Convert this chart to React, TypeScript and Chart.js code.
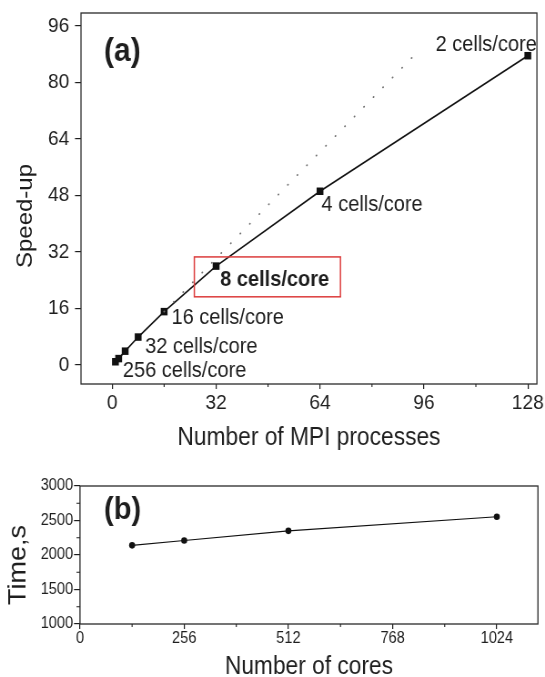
import React, { useEffect, useRef } from "react";
import { Chart, registerables } from "chart.js";

Chart.register(...registerables);

// ---------------- data: panel (a) ----------------
const MPI_PROCESSES = [1, 2, 4, 8, 16, 32, 64, 128];
const SPEEDUP = [0.9, 1.8, 3.9, 7.9, 15.1, 28.0, 49.2, 87.6];
const CELLS_PER_CORE = [
  "256 cells/core",
  "",
  "",
  "32 cells/core",
  "16 cells/core",
  "8 cells/core",
  "4 cells/core",
  "2 cells/core",
];
const IDEAL_X = [16, 95];
const IDEAL_Y = [15.1, 89.6];
const A_X_TICKS = [0, 32, 64, 96, 128];
const A_X_MINOR = [16, 48, 80, 112];
const A_Y_TICKS = [0, 16, 32, 48, 64, 80, 96];
const A_X_RANGE = [-9.6, 130.8];
const A_Y_RANGE = [-5.4, 99.7];
const HIGHLIGHT_X = [25.3, 70.3];
const HIGHLIGHT_Y = [19.3, 30.6];
const HIGHLIGHT_INDEX = 5;

// ---------------- data: panel (b) ----------------
const CORES = [128, 256, 512, 1024];
const TIME_S = [2140, 2210, 2350, 2555];
const B_X_TICKS = [0, 256, 512, 768, 1024];
const B_X_MINOR = [128, 384, 640, 896];
const B_Y_TICKS = [1000, 1500, 2000, 2500, 3000];
const B_Y_MINOR = [1250, 1750, 2250, 2750];
const B_X_RANGE = [0, 1125];
const B_Y_RANGE = [1000, 3000];

// ---------------- styles / layout ----------------
const SQ = 0.91; // horizontal squeeze of the reference figure
const PAGE_W = 545;
const CW = Math.round(PAGE_W / SQ);
const FAMILY = "'Liberation Sans', Arial, Helvetica, sans-serif";
const INK = "#1e1e1e";

const A_H = 460;
const A_LEFT = 81 / SQ;
const A_RIGHT = 537 / SQ;
const A_TOP = 13;
const A_BOTTOM = 384;

const B_TOP_PAGE = 460;
const B_H = 230;
const B_LEFT = 80 / SQ;
const B_RIGHT = 538 / SQ;
const B_TOP = 26;
const B_BOTTOM = 164;

// [dx, dy, align] in canvas px relative to the data point
const LABEL_OFFSETS: [number, number, CanvasTextAlign][] = [
  [8.2, 9, "left"],
  [0, 0, "left"],
  [0, 0, "left"],
  [7.7, 10, "left"],
  [8.1, 6, "left"],
  [4.4, 14, "left"],
  [1.6, 14, "left"],
  [9.9, -11, "right"],
];

function fixedTicks(values: number[]) {
  return (scale: any) => {
    scale.ticks = values.map((v) => ({ value: v }));
  };
}

const plainLabel = (v: any) => String(v);

function makePlugin(kind: "a" | "b") {
  return {
    id: "panelDecor" + kind,
    afterDraw(chart: any) {
      const ctx: CanvasRenderingContext2D = chart.ctx;
      const { left, right, top, bottom } = chart.chartArea;
      const xs = chart.scales.x;
      const ys = chart.scales.y;
      ctx.save();
      // frame
      ctx.strokeStyle = "#2a2a2a";
      ctx.lineWidth = 1.3;
      ctx.strokeRect(left, top, right - left, bottom - top);
      // minor ticks
      ctx.lineWidth = 1.1;
      ctx.strokeStyle = INK;
      ctx.beginPath();
      const xMinor = kind === "a" ? A_X_MINOR : B_X_MINOR;
      xMinor.forEach((v) => {
        const px = xs.getPixelForValue(v);
        ctx.moveTo(px, bottom);
        ctx.lineTo(px, bottom + 3);
      });
      if (kind === "b") {
        B_Y_MINOR.forEach((v) => {
          const py = ys.getPixelForValue(v);
          ctx.moveTo(left, py);
          ctx.lineTo(left - 3.5 / SQ, py);
        });
      }
      ctx.stroke();

      ctx.fillStyle = INK;
      if (kind === "a") {
        // highlight box
        ctx.strokeStyle = "#dc3c3c";
        ctx.lineWidth = 1.5;
        const bx1 = xs.getPixelForValue(HIGHLIGHT_X[0]);
        const bx2 = xs.getPixelForValue(HIGHLIGHT_X[1]);
        const by1 = ys.getPixelForValue(HIGHLIGHT_Y[1]);
        const by2 = ys.getPixelForValue(HIGHLIGHT_Y[0]);
        ctx.strokeRect(bx1, by1, bx2 - bx1, by2 - by1);
        // point labels
        ctx.textBaseline = "middle";
        CELLS_PER_CORE.forEach((t, i) => {
          if (!t) return;
          const px = xs.getPixelForValue(MPI_PROCESSES[i]);
          const py = ys.getPixelForValue(SPEEDUP[i]);
          const [dx, dy, align] = LABEL_OFFSETS[i];
          ctx.font = `${i === HIGHLIGHT_INDEX ? "bold " : ""}22px ${FAMILY}`;
          ctx.textAlign = align;
          ctx.fillText(t, px + dx, py + dy);
        });
        // panel letter
        ctx.font = `bold 33px ${FAMILY}`;
        ctx.textAlign = "left";
        ctx.textBaseline = "alphabetic";
        ctx.fillText("(a)", left + 23 / SQ, 61);
        // titles
        ctx.font = `25px ${FAMILY}`;
        ctx.textAlign = "center";
        ctx.textBaseline = "middle";
        ctx.fillText("Number of MPI processes", (left + right) / 2, 438);
        ctx.font = `24px ${FAMILY}`;
        ctx.save();
        ctx.translate(25.5 / SQ, 216);
        ctx.rotate(-Math.PI / 2);
        ctx.fillText("Speed-up", 0, 0);
        ctx.restore();
      } else {
        ctx.font = `bold 32px ${FAMILY}`;
        ctx.textAlign = "left";
        ctx.textBaseline = "alphabetic";
        ctx.fillText("(b)", left + 24 / SQ, 58.7);
        ctx.font = `25px ${FAMILY}`;
        ctx.textAlign = "center";
        ctx.textBaseline = "middle";
        ctx.fillText("Number of cores", (left + right) / 2, 207);
        ctx.font = `27px ${FAMILY}`;
        ctx.save();
        ctx.translate(18.5 / SQ, (top + bottom) / 2 + 10);
        ctx.rotate(-Math.PI / 2);
        ctx.fillText("Time,s", 0, 0);
        ctx.restore();
      }
      ctx.restore();
    },
  };
}

function gridTicks(len: number) {
  return {
    display: true,
    drawOnChartArea: false,
    drawTicks: true,
    tickLength: len,
    color: INK,
    lineWidth: 1.2,
  };
}

function configA(): any {
  return {
    type: "line",
    data: {
      datasets: [
        {
          data: IDEAL_X.map((x, i) => ({ x, y: IDEAL_Y[i] })),
          borderColor: "#707070",
          borderWidth: 1.8,
          borderDash: [0.3, 14],
          borderCapStyle: "round",
          pointRadius: 0,
          fill: false,
          tension: 0,
        },
        {
          data: MPI_PROCESSES.map((x, i) => ({ x, y: SPEEDUP[i] })),
          borderColor: "#111",
          borderWidth: 1.6,
          pointStyle: "rect",
          pointRadius: 5.3,
          pointBackgroundColor: "#111",
          pointBorderColor: "#111",
          pointBorderWidth: 0,
          fill: false,
          tension: 0,
        },
      ],
    },
    options: {
      responsive: false,
      animation: false,
      devicePixelRatio: 1,
      events: [],
      layout: { padding: { left: 0, top: A_TOP, right: CW - A_RIGHT, bottom: 0 } },
      plugins: { legend: { display: false }, tooltip: { enabled: false }, title: { display: false } },
      scales: {
        x: {
          type: "linear",
          min: A_X_RANGE[0],
          max: A_X_RANGE[1],
          afterBuildTicks: fixedTicks(A_X_TICKS),
          afterFit: (s: any) => {
            s.height = A_H - A_BOTTOM;
            s.paddingLeft = 0;
            s.paddingRight = 0;
          },
          ticks: { autoSkip: false, maxRotation: 0, padding: 1.4, color: INK, font: { family: FAMILY, size: 21 }, callback: plainLabel },
          grid: gridTicks(5),
          border: { display: false },
        },
        y: {
          type: "linear",
          min: A_Y_RANGE[0],
          max: A_Y_RANGE[1],
          afterBuildTicks: fixedTicks(A_Y_TICKS),
          afterFit: (s: any) => {
            s.width = A_LEFT;
            s.paddingTop = 0;
            s.paddingBottom = 0;
          },
          ticks: { autoSkip: false, padding: 6.3, color: INK, font: { family: FAMILY, size: 21 }, callback: plainLabel },
          grid: gridTicks(6.6),
          border: { display: false },
        },
      },
    },
    plugins: [makePlugin("a")],
  };
}

function configB(): any {
  return {
    type: "line",
    data: {
      datasets: [
        {
          data: CORES.map((x, i) => ({ x, y: TIME_S[i] })),
          borderColor: "#111",
          borderWidth: 1.1,
          pointStyle: "circle",
          pointRadius: 3.3,
          pointBackgroundColor: "#111",
          pointBorderColor: "#111",
          pointBorderWidth: 0,
          fill: false,
          tension: 0,
        },
      ],
    },
    options: {
      responsive: false,
      animation: false,
      devicePixelRatio: 1,
      events: [],
      layout: { padding: { left: 0, top: B_TOP, right: CW - B_RIGHT, bottom: 0 } },
      plugins: { legend: { display: false }, tooltip: { enabled: false }, title: { display: false } },
      scales: {
        x: {
          type: "linear",
          min: B_X_RANGE[0],
          max: B_X_RANGE[1],
          afterBuildTicks: fixedTicks(B_X_TICKS),
          afterFit: (s: any) => {
            s.height = B_H - B_BOTTOM;
            s.paddingLeft = 0;
            s.paddingRight = 0;
          },
          ticks: { autoSkip: false, maxRotation: 0, padding: 0, color: INK, font: { family: FAMILY, size: 16 }, callback: plainLabel },
          grid: gridTicks(5),
          border: { display: false },
        },
        y: {
          type: "linear",
          min: B_Y_RANGE[0],
          max: B_Y_RANGE[1],
          afterBuildTicks: fixedTicks(B_Y_TICKS),
          afterFit: (s: any) => {
            s.width = B_LEFT;
            s.paddingTop = 0;
            s.paddingBottom = 0;
          },
          ticks: { autoSkip: false, padding: 1, color: INK, font: { family: FAMILY, size: 16 }, callback: plainLabel },
          grid: gridTicks(6.6),
          border: { display: false },
        },
      },
    },
    plugins: [makePlugin("b")],
  };
}

export default function App() {
  const refA = useRef<HTMLCanvasElement>(null);
  const refB = useRef<HTMLCanvasElement>(null);

  useEffect(() => {
    Chart.defaults.font.family = FAMILY;
    const a = new Chart(refA.current as HTMLCanvasElement, configA());
    const b = new Chart(refB.current as HTMLCanvasElement, configB());
    return () => {
      a.destroy();
      b.destroy();
    };
  }, []);

  return (
    <div
      style={{
        position: "fixed",
        left: 0,
        top: 0,
        width: PAGE_W,
        height: 677,
        overflow: "hidden",
        background: "#fff",
      }}
    >
      <canvas
        ref={refA}
        width={CW}
        height={A_H}
        style={{ position: "absolute", left: 0, top: 0, width: PAGE_W + "px", height: A_H + "px" }}
      />
      <canvas
        ref={refB}
        width={CW}
        height={B_H}
        style={{ position: "absolute", left: 0, top: B_TOP_PAGE, width: PAGE_W + "px", height: B_H + "px" }}
      />
    </div>
  );
}
